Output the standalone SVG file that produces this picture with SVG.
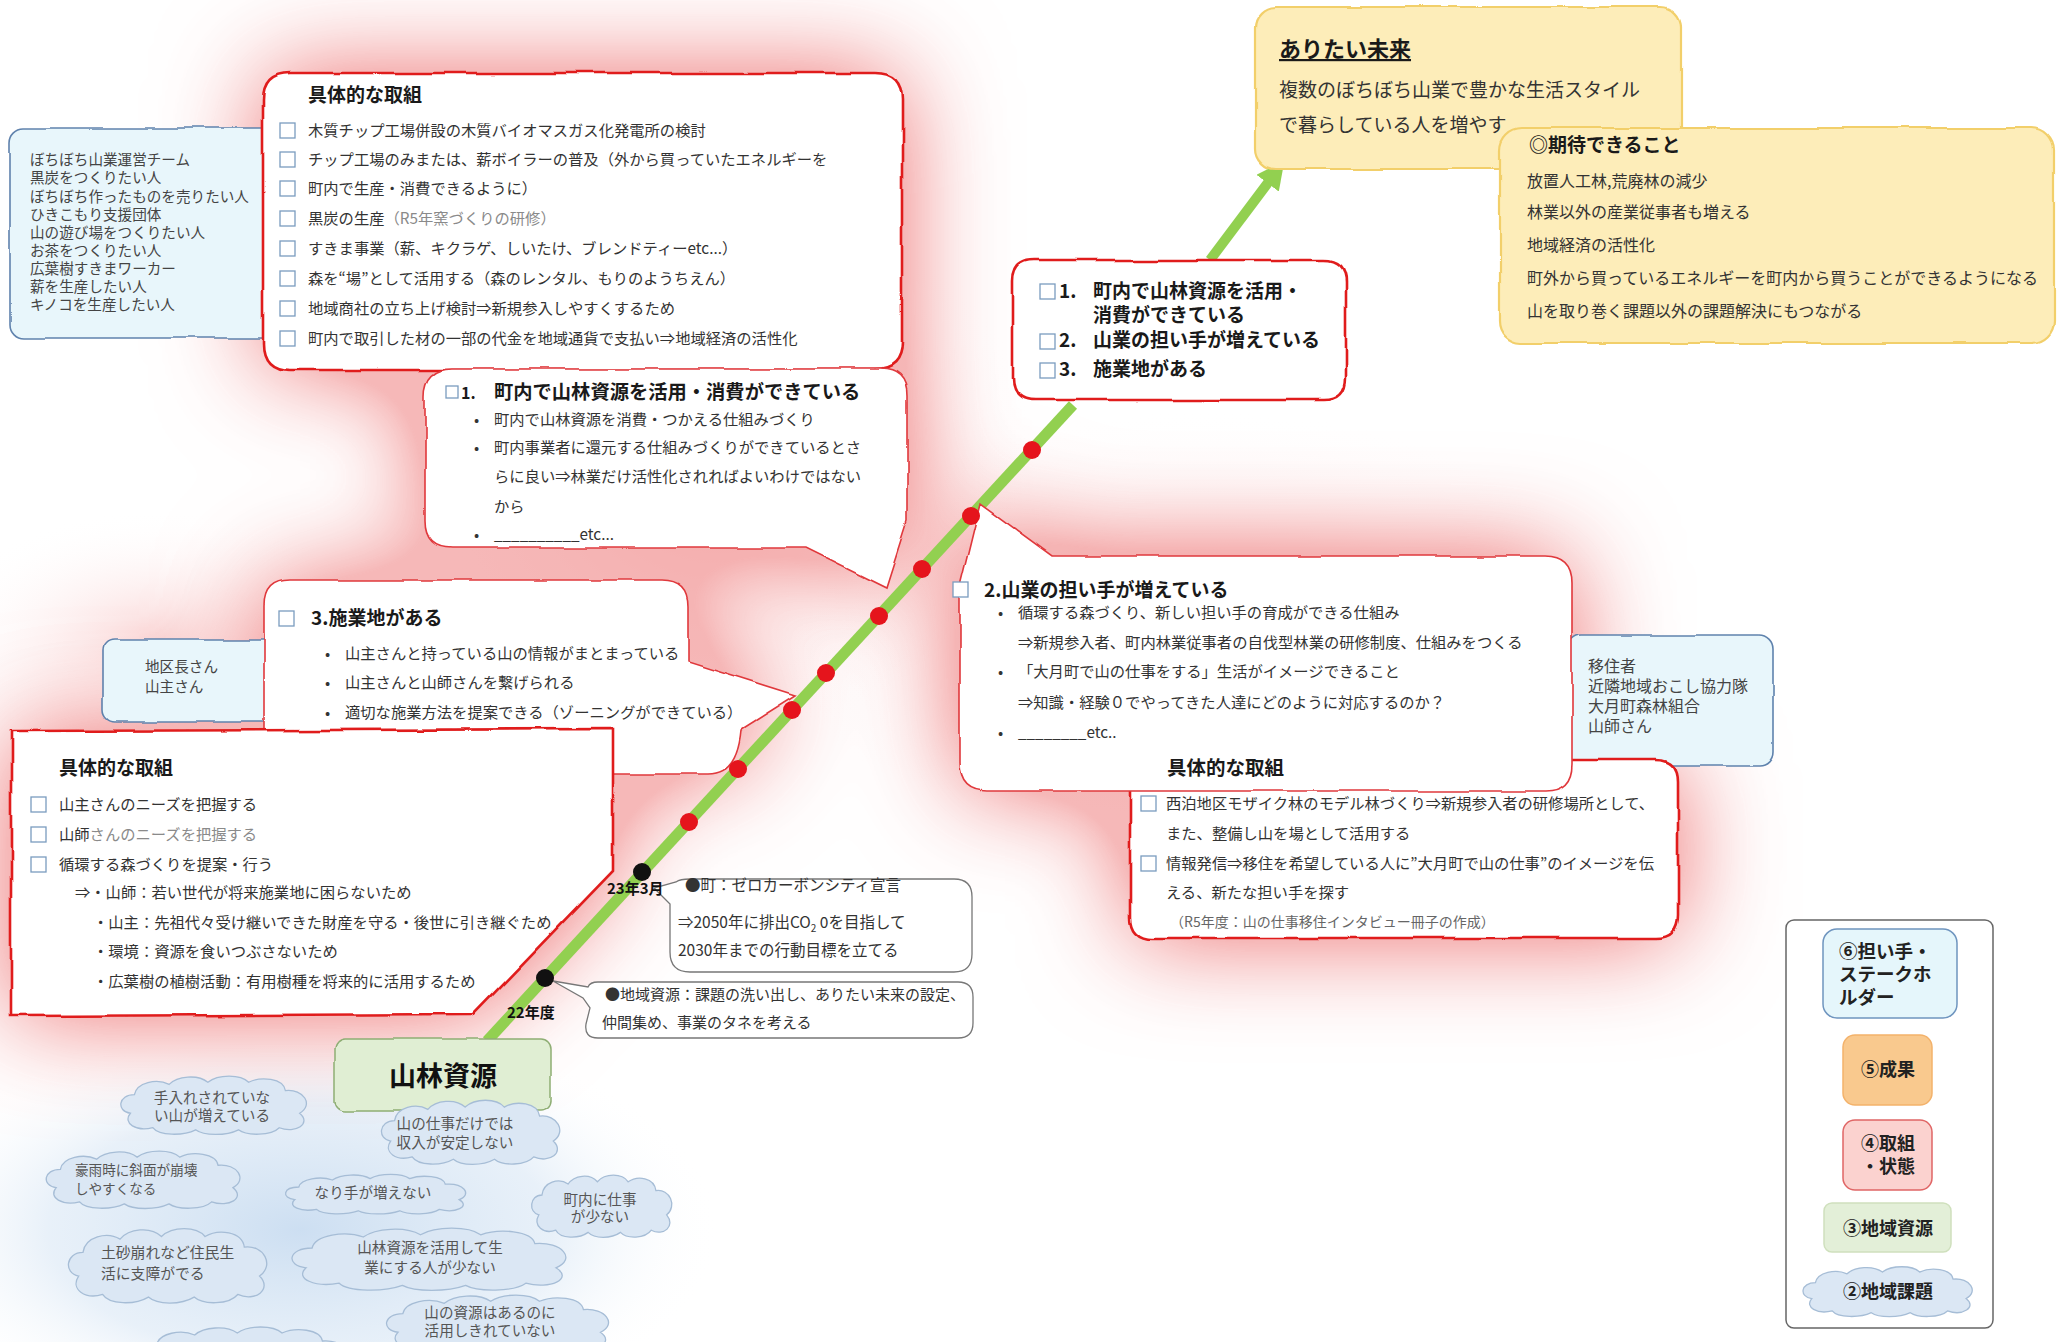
<svg xmlns="http://www.w3.org/2000/svg" xmlns:xlink="http://www.w3.org/1999/xlink" width="2067" height="1342" viewBox="0 0 2067 1342">
<style>
.t{font-family:'Noto Sans CJK JP','Noto Sans',sans-serif;font-size:15.3px;fill:#333}
.s{font-size:14.6px;fill:#444}
.h{font-weight:bold;font-size:19px;fill:#1a1a1a}
.g{fill:#8a8a8a}
.cl{font-size:14.6px;fill:#555;text-anchor:middle}
.lg{font-size:18px;fill:#222;font-weight:bold;text-anchor:middle}
.cb{fill:#fff;stroke:#7a9cbf;stroke-width:1.3}
.red{fill:#fff;stroke:#e01e1e;stroke-width:2.6}
.call{fill:#fff;stroke:#e0393c;stroke-width:1.6}
.blue{fill:#e8f6fb;stroke:#5f82ad;stroke-width:1.6}
.yel{fill:#fdedb9;stroke:#f2cf6b;stroke-width:2.2}
.gray{fill:#fff;stroke:#777;stroke-width:1.3}
.cloud{fill:#dbe7f4;stroke:#a6bdd6;stroke-width:1.3}
.gw{fill:#fff;stroke:none}
.dot{fill:#e5141c}
.blk{fill:#111}
</style>
<defs>
<filter id="rough" x="-5%" y="-5%" width="110%" height="110%">
<feTurbulence type="fractalNoise" baseFrequency="0.018" numOctaves="2" seed="7" result="n"/>
<feDisplacementMap in="SourceGraphic" in2="n" scale="6" xChannelSelector="R" yChannelSelector="G"/>
</filter>
<filter id="glow" x="-25%" y="-30%" width="150%" height="160%">
<feGaussianBlur in="SourceAlpha" stdDeviation="52" result="b"/>
<feComponentTransfer in="b" result="b2"><feFuncA type="linear" slope="2.1"/></feComponentTransfer>
<feFlood flood-color="#f08888" flood-opacity="0.6"/>
<feComposite in2="b2" operator="in"/>
</filter>
<radialGradient id="bg">
<stop offset="0" stop-color="#c7dbf0" stop-opacity="0.9"/>
<stop offset="0.6" stop-color="#d9e7f5" stop-opacity="0.6"/>
<stop offset="1" stop-color="#ffffff" stop-opacity="0"/>
</radialGradient>
<radialGradient id="pg">
<stop offset="0" stop-color="#f4a4a4" stop-opacity="0.45"/>
<stop offset="1" stop-color="#ffffff" stop-opacity="0"/>
</radialGradient>
<symbol id="cloud" viewBox="0 0 200 60" preserveAspectRatio="none" overflow="visible">
<path vector-effect="non-scaling-stroke" d="M18,38 C4,36 6,20 22,20 C24,8 44,4 56,10 C64,2 84,0 94,8 C104,0 126,0 134,8 C146,2 168,4 170,16 C188,14 198,30 184,38 C196,48 180,58 164,52 C156,60 132,60 124,54 C112,60 90,60 82,54 C70,60 46,60 40,52 C24,56 10,48 18,38 Z"/>
</symbol>
<marker id="ah" viewBox="0 0 28 28" refX="4" refY="14" markerWidth="28" markerHeight="28" markerUnits="userSpaceOnUse" orient="auto">
<path d="M0,0 L28,14 L0,28 Z" fill="#92d050"/>
</marker>
<path id="s-top" d="M290,73 L875,73 Q902,73 902,100 L902,343 Q902,370 875,370 L290,370 Q263,370 263,343 L263,100 Q263,73 290,73 Z"/>
<path id="s-c1" d="M452,369 L880,369 Q907,369 907,396 L907,522 L886,588 L805,548 L452,548 Q425,548 425,521 L425,396 Q425,369 452,369 Z"/>
<path id="s-c3" d="M290,580 L662,580 Q688,580 688,606 L688,662 L796,696 L742,730 Q738,774 708,774 L290,774 Q264,774 264,748 L264,606 Q264,580 290,580 Z"/>
<path id="s-bl" d="M11,731 L613,729 L613,870 L474,1014 L11,1016 Z"/>
<path id="s-c2" d="M960,590 L981,504 L1052,556 L1545,556 Q1572,556 1572,583 L1572,764 Q1572,791 1545,791 L987,791 Q960,791 960,764 Z"/>
<path id="s-br" d="M1152,760 L1656,760 Q1678,760 1678,782 L1678,916 Q1678,938 1656,938 L1152,938 Q1130,938 1130,916 L1130,782 Q1130,760 1152,760 Z"/>
<path id="s-list" d="M1035,260 L1324,260 Q1346,260 1346,282 L1346,378 Q1346,400 1324,400 L1035,400 Q1013,400 1013,378 L1013,282 Q1013,260 1035,260 Z"/>
</defs>

<rect width="2067" height="1342" fill="#fff"/>

<g id="background">
<ellipse cx="300" cy="1230" rx="420" ry="210" fill="url(#bg)"/>
<ellipse cx="720" cy="460" rx="320" ry="280" fill="url(#pg)"/>
<ellipse cx="1200" cy="630" rx="440" ry="220" fill="url(#pg)"/>
<ellipse cx="160" cy="640" rx="230" ry="130" fill="url(#pg)"/>
<g filter="url(#glow)" class="gw">
<use href="#s-top"/><use href="#s-c1"/><use href="#s-c3"/><use href="#s-bl"/><use href="#s-c2"/><use href="#s-br"/>
</g>
</g>

<g id="connectors">
<line x1="487" y1="1041" x2="1073" y2="405" stroke="#92d050" stroke-width="11"/>
<line x1="1210" y1="260" x2="1270" y2="180" stroke="#92d050" stroke-width="10" marker-end="url(#ah)"/>
<path class="gray" d="M690,879 L954,879 Q972,879 972,897 L972,954 Q972,972 954,972 L690,972 Q670,972 670,952 L670,904 L654,888 L676,882 Q680,879 690,879 Z"/>
<path class="gray" d="M598,982 L958,982 Q973,982 973,997 L973,1023 Q973,1038 958,1038 L598,1038 Q584,1038 586,1024 L590,1008 L583,998 L553,981 L588,987 Q590,982 598,982 Z"/>
</g>

<g id="stakeholders-top">
<rect x="10" y="128" width="290" height="210" rx="14" class="blue" filter="url(#rough)"/>
<text class="t s" x="30" y="165">ぼちぼち山業運営チーム</text>
<text class="t s" x="30" y="183">黒炭をつくりたい人</text>
<text class="t s" x="30" y="202">ぼちぼち作ったものを売りたい人</text>
<text class="t s" x="30" y="220">ひきこもり支援団体</text>
<text class="t s" x="30" y="238">山の遊び場をつくりたい人</text>
<text class="t s" x="30" y="256">お茶をつくりたい人</text>
<text class="t s" x="30" y="274">広葉樹すきまワーカー</text>
<text class="t s" x="30" y="292">薪を生産したい人</text>
<text class="t s" x="30" y="310">キノコを生産したい人</text>
</g>

<g id="actions-top">
<use href="#s-top" class="red" filter="url(#rough)"/>
<text class="t h" x="308" y="102">具体的な取組</text>
<rect class="cb" x="280" y="123" width="15" height="15"/>
<rect class="cb" x="280" y="152" width="15" height="15"/>
<rect class="cb" x="280" y="181" width="15" height="15"/>
<rect class="cb" x="280" y="211" width="15" height="15"/>
<rect class="cb" x="280" y="241" width="15" height="15"/>
<rect class="cb" x="280" y="271" width="15" height="15"/>
<rect class="cb" x="280" y="301" width="15" height="15"/>
<rect class="cb" x="280" y="331" width="15" height="15"/>
<text class="t" x="308" y="136">木質チップ工場併設の木質バイオマスガス化発電所の検討</text>
<text class="t" x="308" y="165">チップ工場のみまたは、薪ボイラーの普及（外から買っていたエネルギーを</text>
<text class="t" x="308" y="194">町内で生産・消費できるように）</text>
<text class="t" x="308" y="224">黒炭の生産<tspan class="g">（R5年窯づくりの研修）</tspan></text>
<text class="t" x="308" y="254">すきま事業（薪、キクラゲ、しいたけ、ブレンドティーetc...）</text>
<text class="t" x="308" y="284">森を“場”として活用する（森のレンタル、もりのようちえん）</text>
<text class="t" x="308" y="314">地域商社の立ち上げ検討⇒新規参入しやすくするため</text>
<text class="t" x="308" y="344">町内で取引した材の一部の代金を地域通貨で支払い⇒地域経済の活性化</text>
</g>

<g id="state-1">
<use href="#s-c1" class="call" filter="url(#rough)"/>
<rect class="cb" x="446" y="386" width="12" height="12"/>
<text class="t h" x="461" y="399" style="font-size:16px">1.</text>
<text class="t h" x="494" y="399" style="font-size:19.3px">町内で山林資源を活用・消費ができている</text>
<text class="t" x="474" y="425">•</text><text class="t" x="494" y="425">町内で山林資源を消費・つかえる仕組みづくり</text>
<text class="t" x="474" y="453">•</text><text class="t" x="494" y="453">町内事業者に還元する仕組みづくりができているとさ</text>
<text class="t" x="494" y="482">らに良い⇒林業だけ活性化されればよいわけではない</text>
<text class="t" x="494" y="512">から</text>
<text class="t" x="474" y="540">•</text><text class="t" x="494" y="540">__________etc...</text>
</g>

<g id="stakeholders-left">
<rect x="103" y="639" width="200" height="83" rx="12" class="blue" filter="url(#rough)"/>
<text class="t s" x="145" y="672">地区長さん</text>
<text class="t s" x="145" y="692">山主さん</text>
</g>

<g id="state-3">
<use href="#s-c3" class="call" filter="url(#rough)"/>
<rect class="cb" x="279" y="611" width="15" height="15"/>
<text class="t h" x="311" y="625">3.施業地がある</text>
<text class="t" x="325" y="659">•</text><text class="t" x="345" y="659">山主さんと持っている山の情報がまとまっている</text>
<text class="t" x="325" y="688">•</text><text class="t" x="345" y="688">山主さんと山師さんを繋げられる</text>
<text class="t" x="325" y="718">•</text><text class="t" x="345" y="718">適切な施業方法を提案できる（ゾーニングができている）</text>
</g>

<g id="actions-left">
<use href="#s-bl" class="red" filter="url(#rough)"/>
<text class="t h" x="59" y="775">具体的な取組</text>
<rect class="cb" x="31" y="797" width="15" height="15"/>
<rect class="cb" x="31" y="827" width="15" height="15"/>
<rect class="cb" x="31" y="857" width="15" height="15"/>
<text class="t" x="59" y="810">山主さんのニーズを把握する</text>
<text class="t" x="59" y="840">山師<tspan class="g">さんのニーズを把握する</tspan></text>
<text class="t" x="59" y="870">循環する森づくりを提案・行う</text>
<text class="t" x="75" y="898">⇒・山師：若い世代が将来施業地に困らないため</text>
<text class="t" x="93" y="928">・山主：先祖代々受け継いできた財産を守る・後世に引き継ぐため</text>
<text class="t" x="93" y="957">・環境：資源を食いつぶさないため</text>
<text class="t" x="93" y="987">・広葉樹の植樹活動：有用樹種を将来的に活用するため</text>
</g>

<g id="stakeholders-right">
<rect x="1568" y="635" width="205" height="130" rx="14" class="blue" filter="url(#rough)"/>
<text class="t" x="1588" y="672" style="font-size:16px;fill:#444">移住者</text>
<text class="t" x="1588" y="692" style="font-size:16px;fill:#444">近隣地域おこし協力隊</text>
<text class="t" x="1588" y="712" style="font-size:16px;fill:#444">大月町森林組合</text>
<text class="t" x="1588" y="732" style="font-size:16px;fill:#444">山師さん</text>
</g>

<g id="actions-right">
<use href="#s-br" class="red" filter="url(#rough)"/>
<rect class="cb" x="1141" y="796" width="15" height="15"/>
<rect class="cb" x="1141" y="856" width="15" height="15"/>
<text class="t" x="1166" y="809">西泊地区モザイク林のモデル林づくり⇒新規参入者の研修場所として、</text>
<text class="t" x="1166" y="839">また、整備し山を場として活用する</text>
<text class="t" x="1166" y="869">情報発信⇒移住を希望している人に”大月町で山の仕事”のイメージを伝</text>
<text class="t" x="1166" y="898">える、新たな担い手を探す</text>
<text class="t" x="1170" y="927" style="font-size:14px;fill:#666">（R5年度：山の仕事移住インタビュー冊子の作成）</text>
</g>

<g id="state-2">
<use href="#s-c2" class="call" filter="url(#rough)"/>
<rect class="cb" x="953" y="582" width="15" height="15"/>
<text class="t h" x="984" y="597">2.山業の担い手が増えている</text>
<text class="t" x="998" y="618">•</text><text class="t" x="1018" y="618">循環する森づくり、新しい担い手の育成ができる仕組み</text>
<text class="t" x="1018" y="648">⇒新規参入者、町内林業従事者の自伐型林業の研修制度、仕組みをつくる</text>
<text class="t" x="998" y="677">•</text><text class="t" x="1018" y="677">「大月町で山の仕事をする」生活がイメージできること</text>
<text class="t" x="1018" y="708">⇒知識・経験０でやってきた人達にどのように対応するのか？</text>
<text class="t" x="998" y="738">•</text><text class="t" x="1018" y="738">________etc..</text>
<text class="t h" x="1167" y="775" style="font-size:19.5px">具体的な取組</text>
</g>

<g id="state-list">
<use href="#s-list" class="red" filter="url(#rough)"/>
<rect class="cb" x="1040" y="284" width="15" height="15"/>
<rect class="cb" x="1040" y="334" width="15" height="15"/>
<rect class="cb" x="1040" y="363" width="15" height="15"/>
<text class="t h" x="1059" y="298">1.</text><text class="t h" x="1093" y="298">町内で山林資源を活用・</text>
<text class="t h" x="1093" y="322">消費ができている</text>
<text class="t h" x="1059" y="347">2.</text><text class="t h" x="1093" y="347">山業の担い手が増えている</text>
<text class="t h" x="1059" y="376">3.</text><text class="t h" x="1093" y="376">施業地がある</text>
</g>

<g id="future">
<rect x="1256" y="7" width="425" height="162" rx="20" class="yel" filter="url(#rough)"/>
<text class="t h" x="1279" y="57" style="font-size:22px;text-decoration:underline">ありたい未来</text>
<text class="t" x="1279" y="97" style="font-size:19px">複数のぼちぼち山業で豊かな生活スタイル</text>
<text class="t" x="1279" y="132" style="font-size:19px">で暮らしている人を増やす</text>
</g>

<g id="expected">
<rect x="1500" y="128" width="554" height="215" rx="22" class="yel" filter="url(#rough)"/>
<text class="t h" x="1529" y="152">◎期待できること</text>
<text class="t" x="1527" y="187" style="font-size:16px">放置人工林,荒廃林の減少</text>
<text class="t" x="1527" y="218" style="font-size:16px">林業以外の産業従事者も増える</text>
<text class="t" x="1527" y="251" style="font-size:16px">地域経済の活性化</text>
<text class="t" x="1527" y="284" style="font-size:16px">町外から買っているエネルギーを町内から買うことができるようになる</text>
<text class="t" x="1527" y="317" style="font-size:16px">山を取り巻く課題以外の課題解決にもつながる</text>
</g>

<g id="timeline-events">
<text class="t" x="685" y="891" style="font-size:15.5px">●町：ゼロカーボンシティ宣言</text>
<text class="t" x="678" y="928" style="font-size:15.5px">⇒2050年に排出CO<tspan style="font-size:10px" dy="4">2</tspan><tspan dy="-4"> 0を目指して</tspan></text>
<text class="t" x="678" y="956" style="font-size:15.5px">2030年までの行動目標を立てる</text>
<text class="t" x="605" y="1000" style="font-size:15px">●地域資源：課題の洗い出し、ありたい未来の設定、</text>
<text class="t" x="602" y="1028" style="font-size:15px">仲間集め、事業のタネを考える</text>
<text class="t" x="607" y="894" style="font-size:15px;font-weight:bold;fill:#111">23年3月</text>
<text class="t" x="507" y="1018" style="font-size:15px;font-weight:bold;fill:#111">22年度</text>
</g>

<g id="timeline-dots">
<circle class="dot" cx="1032" cy="450" r="9"/>
<circle class="dot" cx="971" cy="516" r="9"/>
<circle class="dot" cx="922" cy="569" r="9"/>
<circle class="dot" cx="879" cy="616" r="9"/>
<circle class="dot" cx="826" cy="673" r="9"/>
<circle class="dot" cx="792" cy="710" r="9"/>
<circle class="dot" cx="738" cy="769" r="9"/>
<circle class="dot" cx="689" cy="822" r="9"/>
<circle class="blk" cx="642" cy="872" r="9"/>
<circle class="blk" cx="545" cy="978" r="9"/>
</g>

<g id="issues">
<use href="#cloud" class="cloud" x="112" y="1074" width="204" height="62"/>
<text class="t cl" x="212" y="1103">手入れされていな</text>
<text class="t cl" x="212" y="1121">い山が増えている</text>
<use href="#cloud" class="cloud" x="37" y="1149" width="213" height="61"/>
<text class="t s" x="75" y="1175" style="font-size:13.6px;fill:#555">豪雨時に斜面が崩壊</text>
<text class="t s" x="75" y="1194" style="font-size:13.6px;fill:#555">しやすくなる</text>
<use href="#cloud" class="cloud" x="277" y="1173" width="198" height="42"/>
<text class="t cl" x="373" y="1198">なり手が増えない</text>
<use href="#cloud" class="cloud" x="525" y="1173" width="154" height="66"/>
<text class="t cl" x="600" y="1205">町内に仕事</text>
<text class="t cl" x="600" y="1222">が少ない</text>
<use href="#cloud" class="cloud" x="59" y="1226" width="218" height="79"/>
<text class="t s" x="101" y="1258" style="font-size:14.8px;fill:#555">土砂崩れなど住民生</text>
<text class="t s" x="101" y="1279" style="font-size:14.8px;fill:#555">活に支障がでる</text>
<use href="#cloud" class="cloud" x="279" y="1226" width="301" height="66"/>
<text class="t cl" x="430" y="1253">山林資源を活用して生</text>
<text class="t cl" x="430" y="1273">業にする人が少ない</text>
<use href="#cloud" class="cloud" x="132" y="1325" width="224" height="60"/>
<use href="#cloud" class="cloud" x="376" y="1293" width="244" height="62"/>
<text class="t cl" x="490" y="1318">山の資源はあるのに</text>
<text class="t cl" x="490" y="1336">活用しきれていない</text>
</g>

<g id="forest-resource">
<rect x="335" y="1039" width="216" height="72" rx="10" fill="#e0eed3" stroke="#8fae74" stroke-width="1.5" filter="url(#rough)"/>
<text class="t" x="443" y="1086" style="font-size:27px;font-weight:bold;fill:#111;text-anchor:middle">山林資源</text>
<use href="#cloud" class="cloud" x="373" y="1098" width="196" height="68"/>
<text class="t cl" x="455" y="1129">山の仕事だけでは</text>
<text class="t cl" x="455" y="1148">収入が安定しない</text>
</g>

<g id="legend">
<rect x="1786" y="920" width="207" height="408" rx="8" fill="#fff" stroke="#666" stroke-width="1.5"/>
<rect x="1823" y="929" width="134" height="89" rx="14" fill="#e5f6fb" stroke="#6f95bf" stroke-width="1.5"/>
<text class="t" x="1839" y="958" style="font-size:18.5px;fill:#222;font-weight:bold">⑥担い手・</text>
<text class="t" x="1839" y="981" style="font-size:18.5px;fill:#222;font-weight:bold">ステークホ</text>
<text class="t" x="1839" y="1004" style="font-size:18.5px;fill:#222;font-weight:bold">ルダー</text>
<rect x="1843" y="1035" width="89" height="70" rx="12" fill="#f9c98e" stroke="#f3b26b" stroke-width="1.5"/>
<text class="t lg" x="1888" y="1076">⑤成果</text>
<rect x="1843" y="1120" width="89" height="70" rx="12" fill="#fbd2cf" stroke="#e06666" stroke-width="1.5"/>
<text class="t lg" x="1888" y="1150">④取組</text>
<text class="t lg" x="1888" y="1173">・状態</text>
<rect x="1824" y="1203" width="127" height="49" rx="8" fill="#e3efd8" stroke="#cfe0bd" stroke-width="1.5"/>
<text class="t lg" x="1888" y="1235">③地域資源</text>
<use href="#cloud" class="cloud" x="1795" y="1265" width="186" height="53"/>
<text class="t lg" x="1888" y="1298">②地域課題</text>
</g>
</svg>
